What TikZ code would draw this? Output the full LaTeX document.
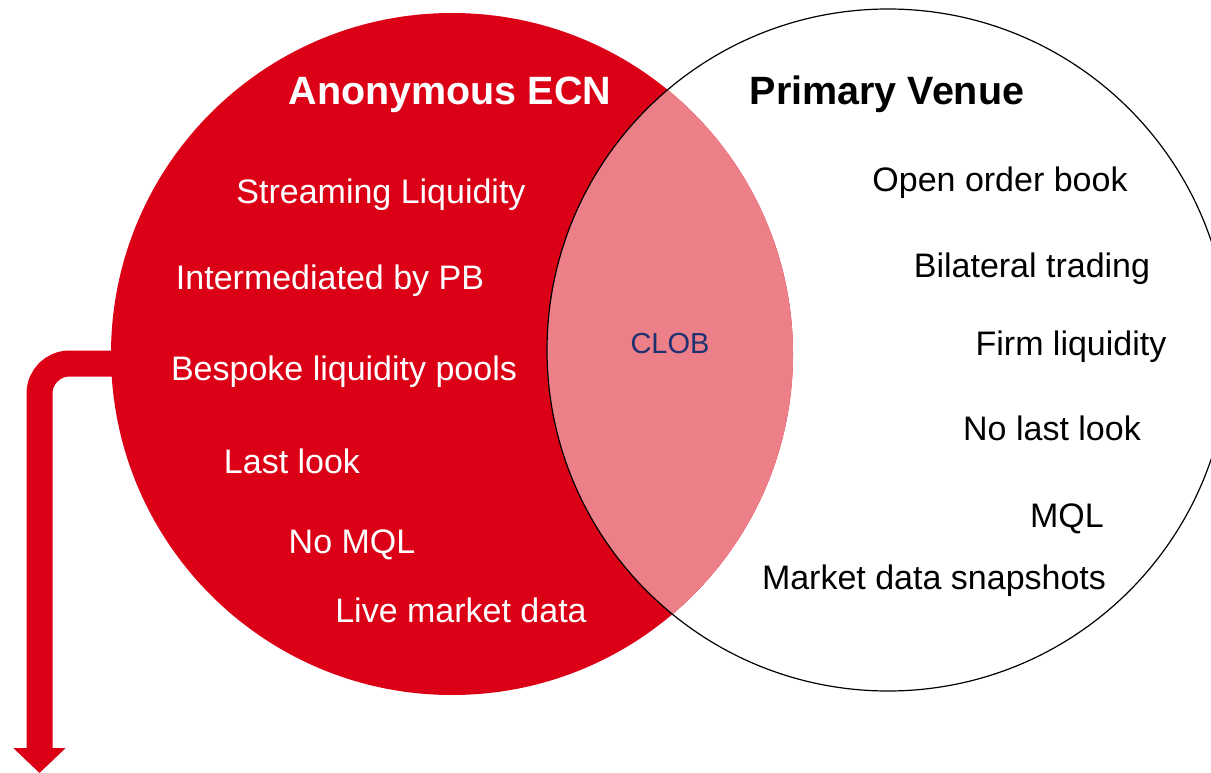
\documentclass[tikz,border=0pt]{standalone}
\usepackage{fontspec}
\setmainfont{Liberation Sans}
\usetikzlibrary{positioning}
\usetikzlibrary{arrows.meta}
\definecolor{ecnred}{HTML}{DB0016}
\definecolor{clobpink}{HTML}{ED7F89}
\definecolor{clobnavy}{HTML}{1E3170}
\tikzset{x=1pt, y=-1pt,
disc/.style={ % Sets the properties for both circles
circle,
inner sep=0pt,
minimum size=682pt},
item/.style={ % Sets the properties for each feature label
anchor=base,
inner sep=0pt,
font=\fontsize{34}{40}\selectfont},
title/.style={ % Heading of each venue
anchor=base,
inner sep=0pt,
font=\fontsize{39.5}{46}\selectfont\bfseries},
flow/.style={ % Thick bent arrow leaving the ECN
draw=ecnred,
line width=26pt,
rounded corners=30pt,
-{Triangle[width=51pt,length=25pt]}}}

\begin{document}
\begin{tikzpicture}
\useasboundingbox (0,0) rectangle (1211,773);
\node[disc, fill=ecnred] (ecn) at (452,354) {};
\node[disc] (venue) at (888,350) {};
\begin{scope}
\clip (ecn.center) circle (341pt);
\fill[clobpink] (venue.center) circle (341pt);
\end{scope}
\draw[line width=1.2pt] (venue.center) circle (341pt);
\coordinate (tip) at (39.5,773);
\draw[flow] ([xshift=20pt, yshift=-9.5pt]ecn.west) -| (tip);
% headings
\node[title, text=white] (ecnhead) at (450,105) {Anonymous ECN};
\node[title] (venuehead) at (887,105) {Primary Venue};
% anonymous ECN features
\node[item, text=white] (stream) at (381,204) {Streaming Liquidity};
\node[item, text=white] (pb) at (330,289) {Intermediated by PB};
\node[item, text=white] (pools) at (344,380) {Bespoke liquidity pools};
\node[item, text=white] (lastlook) at (292,473) {Last look};
\node[item, text=white] (nomql) at (352,553) {No MQL};
\node[item, text=white] (live) at (461,622) {Live market data};
% overlap
\node[item, text=clobnavy, font=\fontsize{29}{34}\selectfont] (clob) at (670,353) {CLOB};
% primary venue features
\node[item] (book) at (1000,192) {Open order book};
\node[item] (bilateral) at (1032,277) {Bilateral trading};
\node[item] (firm) at (1071,355) {Firm liquidity};
\node[item] (nolast) at (1052,440) {No last look};
\node[item] (mql) at (1067,527) {MQL};
\node[item] (snap) at (934,589) {Market data snapshots};
\end{tikzpicture}
\end{document}
